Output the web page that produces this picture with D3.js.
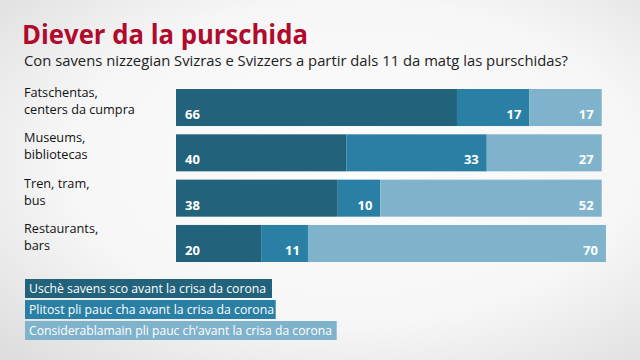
<!DOCTYPE html>
<html><head><meta charset="utf-8">
<script src="https://cdn.jsdelivr.net/npm/d3@7"></script>
<style>body{margin:0;}svg{display:block;}</style>
</head><body>
<script>
const categories = [["Fatschentas,","centers da cumpra"],["Museums,","bibliotecas"],["Tren, tram,","bus"],["Restaurants,","bars"]];
const seriesNames = ["Uschè savens sco avant la crisa da corona","Plitost pli pauc cha avant la crisa da corona","Considerablamain pli pauc ch’avant la crisa da corona"];
const sameValues = [66,40,38,20];
const lessValues = [17,33,10,11];
const muchLessValues = [17,27,52,70];
const colors = ["#22627b","#2a7fa5","#7fb3cb"];
const title = "Diever da la purschida";
const subtitle = "Con savens nizzegian Svizras e Svizzers a partir dals 11 da matg las purschidas?";

const W=640,H=360;
const svg=d3.select("body").append("svg").attr("width",W).attr("height",H);
const defs=svg.append("defs");
const rg=defs.append("radialGradient").attr("id","bg").attr("cx","0.55").attr("cy","0.45").attr("r","0.75");
rg.append("stop").attr("offset","0%").attr("stop-color","#fdfdfd");
rg.append("stop").attr("offset","60%").attr("stop-color","#f6f6f6");
rg.append("stop").attr("offset","100%").attr("stop-color","#dedede");
svg.append("rect").attr("width",W).attr("height",H).attr("fill","url(#bg)");

const font="'Open Sans', sans-serif";
svg.append("text").attr("x",22).attr("y",44).text(title)
  .attr("font-family",font).attr("font-weight",700).attr("font-size",26).attr("fill","#b00a2c").attr("textLength",286).attr("lengthAdjust","spacingAndGlyphs");
svg.append("text").attr("x",24).attr("y",66).text(subtitle)
  .attr("font-family",font).attr("font-size",15).attr("fill","#222").attr("textLength",544).attr("lengthAdjust","spacingAndGlyphs");

const data=categories.map((c,i)=>({cat:c,vals:[sameValues[i],lessValues[i],muchLessValues[i]]}));
const x=d3.scaleLinear().domain([0,100]).range([176,601.7]);
const y=d3.scaleBand().domain(d3.range(categories.length)).range([89,262]).paddingInner(0.183).paddingOuter(0);

const rows=svg.selectAll("g.row").data(data).join("g").attr("class","row");
rows.each(function(d,i){
  const g=d3.select(this);
  let acc=0;
  d.vals.forEach((v,k)=>{
    const x0=x(acc), x1=x(acc+v);
    g.append("rect").attr("x",x0).attr("y",y(i)).attr("width",x1-x0).attr("height",y.bandwidth()).attr("fill",colors[k]);
    const t=g.append("text").attr("y",y(i)+y.bandwidth()-7).text(v)
      .attr("font-family",font).attr("font-weight",700).attr("font-size",13).attr("fill","#fff");
    if(k===0){t.attr("x",x0+9);} else {t.attr("x",x1-8).attr("text-anchor","end");}
    acc+=v;
  });
  d.cat.forEach((line,j)=>g.append("text").attr("x",24).attr("y",y(i)+8+j*17).text(line)
    .attr("font-family",font).attr("font-size",12.7).attr("fill","#111"));
});

const legY=[279,300,321];
const legTextW=[237,245,303];
const legBoxW=[247,250.7,311.7];
seriesNames.forEach((n,k)=>{
  const g=svg.append("g");
  g.append("rect").attr("x",25).attr("y",legY[k]).attr("width",legBoxW[k]).attr("height",19).attr("fill",colors[k]);
  g.append("text").attr("x",29).attr("y",legY[k]+14).text(n)
    .attr("font-family",font).attr("font-size",12.5).attr("fill","#fff")
    .attr("textLength",legTextW[k]).attr("lengthAdjust","spacingAndGlyphs");
});
</script>
</body></html>
